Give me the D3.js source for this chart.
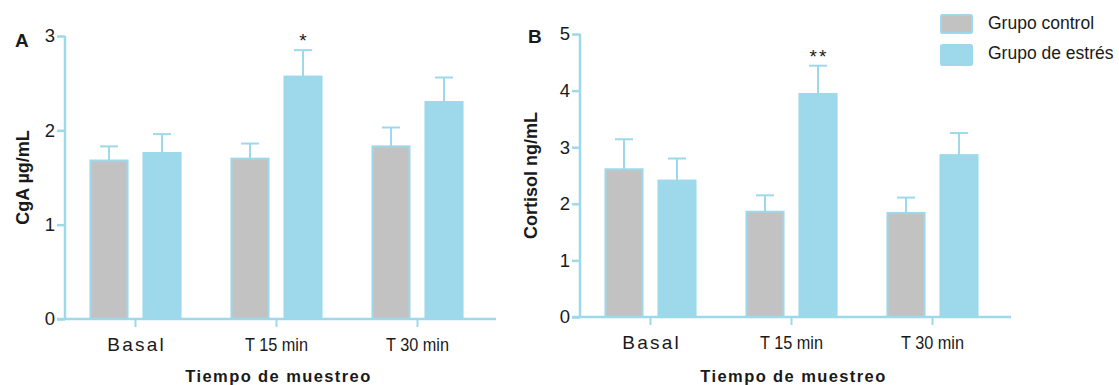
<!DOCTYPE html>
<html>
<head>
<meta charset="utf-8">
<script src="https://cdn.jsdelivr.net/npm/d3@7"></script>
<style>
  html, body { margin: 0; padding: 0; background: #fff; }
  svg { display: block; font-family: "Liberation Sans", Arial, sans-serif; }
</style>
</head>
<body>
<svg id="chart" width="1119" height="385"></svg>
<script>
// Sampling times and groups
const categories = ["Basal", "T 15 min", "T 30 min"];
const groups = ["Grupo control", "Grupo de estrés"];

// Panel A: chromogranin A (µg/mL), mean and upper error
const cgaControl = [1.68, 1.70, 1.83];
const cgaControlErr = [0.15, 0.16, 0.20];
const cgaStress = [1.76, 2.57, 2.30];
const cgaStressErr = [0.20, 0.28, 0.26];
const cgaTicks = [0, 1, 2, 3];
const cgaMarks = ["", "*", ""];

// Panel B: cortisol (ng/mL), mean and upper error
const cortControl = [2.61, 1.86, 1.84];
const cortControlErr = [0.53, 0.29, 0.27];
const cortStress = [2.41, 3.94, 2.86];
const cortStressErr = [0.39, 0.50, 0.39];
const cortTicks = [0, 1, 2, 3, 4, 5];
const cortMarks = ["", "**", ""];

const BLUE = "#9dd9ea";
const GRAY = "#c2c2c2";
const TEXT = "#1a1a1a";

const svg = d3.select("#chart");

function panel(cfg) {
  const g = svg.append("g");
  const x = d3.scaleBand().domain(categories).range([cfg.x0, cfg.x0 + 423]).paddingInner(0).paddingOuter(0);
  const y = d3.scaleLinear().domain([0, cfg.max]).range([cfg.yBottom, cfg.yTop]);
  const sub = d3.scaleBand().domain(groups).range([0, x.bandwidth()]).paddingInner(0.3).paddingOuter(0.48);
  const bw = sub.bandwidth();

  // bars
  const series = [
    { key: groups[0], vals: cfg.control, errs: cfg.controlErr, fill: GRAY },
    { key: groups[1], vals: cfg.stress, errs: cfg.stressErr, fill: BLUE }
  ];
  series.forEach(s => {
    categories.forEach((c, i) => {
      const bx = x(c) + sub(s.key);
      const top = y(s.vals[i]);
      const cap = y(s.vals[i] + s.errs[i]);
      const cx = bx + bw / 2;
      // error bar (upper only)
      g.append("line").attr("x1", cx).attr("x2", cx).attr("y1", top).attr("y2", cap)
        .attr("stroke", BLUE).attr("stroke-width", 2);
      g.append("line").attr("x1", cx - 9).attr("x2", cx + 9).attr("y1", cap).attr("y2", cap)
        .attr("stroke", BLUE).attr("stroke-width", 2);
      g.append("rect").attr("x", bx).attr("y", top).attr("width", bw).attr("height", y(0) - top)
        .attr("fill", s.fill).attr("stroke", BLUE).attr("stroke-width", 2);
      if (s.key === groups[1] && cfg.marks[i]) {
        g.append("text").attr("x", cx + 1).attr("y", cap - 3).attr("text-anchor", "middle")
          .attr("font-size", 19).attr("fill", TEXT).attr("letter-spacing", 2)
          .text(cfg.marks[i]);
      }
    });
  });

  // y axis
  const yAxis = g.append("g").attr("transform", `translate(${cfg.x0},0)`)
    .call(d3.axisLeft(y).tickValues(cfg.ticks).tickFormat(d3.format("d")).tickSize(8).tickPadding(2));
  yAxis.select(".domain").attr("stroke", BLUE).attr("stroke-width", 2.5)
    .attr("d", `M0,${cfg.yTop}V${cfg.yBottom}`);
  yAxis.selectAll(".tick line").attr("stroke", BLUE).attr("stroke-width", 2.5);
  yAxis.selectAll(".tick text").attr("font-size", 18.5).attr("fill", TEXT)
    .attr("font-family", "'Liberation Sans', Arial, sans-serif");

  // x axis
  const xAxis = g.append("g").attr("transform", `translate(0,${cfg.yBottom})`)
    .call(d3.axisBottom(x).tickSize(8).tickPadding(8));
  xAxis.select(".domain").attr("stroke", BLUE).attr("stroke-width", 2.5)
    .attr("d", `M${cfg.x0 - 8},0H${cfg.x0 + 431}`);
  xAxis.selectAll(".tick line").attr("stroke", BLUE).attr("stroke-width", 2);
  xAxis.selectAll(".tick text").attr("font-size", 19).attr("fill", TEXT)
    .attr("font-family", "'Liberation Sans', Arial, sans-serif")
    .attr("dy", "0.85em")
    .each(function(d) {
      const t = d3.select(this);
      if (d === "Basal") t.attr("letter-spacing", 2.2).attr("dx", 1.1);
      else t.attr("textLength", 63).attr("lengthAdjust", "spacingAndGlyphs");
    });

  // titles
  g.append("text").attr("x", x(categories[1]) + x.bandwidth() / 2 + 2).attr("y", 382)
    .attr("text-anchor", "middle").attr("font-size", 16.5).attr("font-weight", "bold")
    .attr("letter-spacing", 1.4).attr("fill", TEXT).text("Tiempo de muestreo");
  g.append("text").attr("transform", `translate(${cfg.titleX},${(cfg.yTop + cfg.yBottom) / 2}) rotate(-90)`)
    .attr("text-anchor", "middle").attr("font-size", 18).attr("font-weight", "bold")
    .attr("fill", TEXT).text(cfg.yTitle);
  g.append("text").attr("x", cfg.labelX).attr("y", cfg.labelY)
    .attr("font-size", 19).attr("font-weight", "bold").attr("fill", TEXT).text(cfg.label);
}

panel({ x0: 65, yTop: 36, yBottom: 319, max: 3, ticks: cgaTicks,
  control: cgaControl, controlErr: cgaControlErr, stress: cgaStress, stressErr: cgaStressErr,
  marks: cgaMarks, yTitle: "CgA µg/mL", titleX: 29, label: "A", labelX: 15, labelY: 47 });

panel({ x0: 580, yTop: 34, yBottom: 317, max: 5, ticks: cortTicks,
  control: cortControl, controlErr: cortControlErr, stress: cortStress, stressErr: cortStressErr,
  marks: cortMarks, yTitle: "Cortisol ng/mL", titleX: 537, label: "B", labelX: 528, labelY: 43 });

// legend
const legend = svg.append("g").attr("transform", "translate(941,15)");
groups.forEach((gName, i) => {
  const row = legend.append("g").attr("transform", `translate(0,${i * 30})`);
  row.append("rect").attr("x", 0).attr("y", 0).attr("width", 31).attr("height", i === 0 ? 18 : 20)
    .attr("rx", 1.5).attr("fill", i === 0 ? GRAY : BLUE).attr("stroke", BLUE).attr("stroke-width", 2);
  row.append("text").attr("x", 47).attr("y", 14).attr("font-size", 17.5).attr("fill", TEXT).text(gName);
});
</script>
</body>
</html>
